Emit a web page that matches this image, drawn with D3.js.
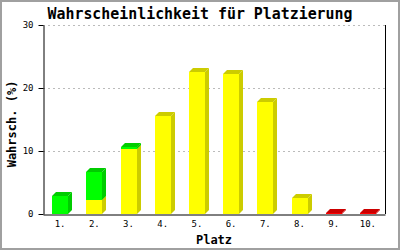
<!DOCTYPE html>
<html><head><meta charset="utf-8">
<script src="https://cdn.jsdelivr.net/npm/d3@7"></script>
<style>body{margin:0;background:#fff}svg{display:block}</style>
</head><body>
<script>
const categories = ["1.","2.","3.","4.","5.","6.","7.","8.","9.","10."];
const yellowVals = [0, 2.2, 10.3, 15.5, 22.6, 22.3, 17.7, 2.6, 0, 0];
const greenVals  = [2.8, 4.4, 0.3, 0, 0, 0, 0, 0, 0, 0];
const redVals    = [0, 0, 0, 0, 0, 0, 0, 0, 0.2, 0.2];
const yTicks = [0, 10, 20, 30];

(function () {
const W = 400, H = 250;
const svg = d3.select("body").append("svg").attr("width", W).attr("height", H);
svg.append("rect").attr("x",1).attr("y",1).attr("width",W-2).attr("height",H-2)
  .attr("fill","#fff").attr("stroke","#a0a0a0").attr("stroke-width",2);

const pL = 43, pR = 385, pT = 25, pB = 214;
const x = d3.scaleBand().domain(categories).range([pL, pR]);
const y = d3.scaleLinear().domain([0, 30]).range([pB, pT]);
const mono = "'DejaVu Sans Mono', monospace";

// grid
svg.append("g").selectAll("line").data(yTicks.filter(v => v > 0)).join("line")
  .attr("x1", pL).attr("x2", pR)
  .attr("y1", v => Math.round(y(v)) + 0.5).attr("y2", v => Math.round(y(v)) + 0.5)
  .attr("stroke", "#bbb").attr("stroke-dasharray", "2,3");

// bars
const series = [
  {vals: yellowVals, front: "#ffff00", dark: "#cccc00"},
  {vals: greenVals,  front: "#00ff00", dark: "#00cc00"},
  {vals: redVals,    front: "#ff0000", dark: "#cc0000"}
];
const bw = 16, dp = 4;
const segs = [];
categories.forEach((c, i) => {
  let base = 0;
  series.forEach(s => {
    const v = s.vals[i];
    if (v > 0) { segs.push({c, y0: base, y1: base + v, s}); base += v; }
  });
});
const g = svg.append("g");
segs.forEach(sg => {
  const cx = x(sg.c) + x.bandwidth() / 2;
  const x0 = Math.round(cx - bw / 2), x1 = x0 + bw;
  const yt = Math.round(y(sg.y1)), yb = Math.round(y(sg.y0));
  g.append("polygon").attr("points", [[x1, yb], [x1 + dp, yb - dp], [x1 + dp, yt - dp], [x1, yt]].join(" "))
    .attr("fill", sg.s.dark);
  g.append("polygon").attr("points", [[x0, yt], [x0 + dp, yt - dp], [x1 + dp, yt - dp], [x1, yt]].join(" "))
    .attr("fill", sg.s.dark);
  g.append("rect").attr("x", x0).attr("y", yt).attr("width", bw).attr("height", Math.max(0, yb - yt))
    .attr("fill", sg.s.front);
});

// axes
const yAxis = d3.axisLeft(y).tickValues(yTicks).tickSize(5).tickSizeOuter(0).tickFormat(d3.format("d"));
const ya = svg.append("g").attr("transform", `translate(${pL + 0.5},0)`).call(yAxis);
ya.selectAll("text").attr("font-family", mono).attr("font-size", 9).attr("fill", "#000").attr("dx", -2);
ya.selectAll("path,line").attr("stroke", "#000");

const xAxis = d3.axisBottom(x).tickSize(0).tickSizeOuter(0);
const xa = svg.append("g").attr("transform", `translate(0,${pB + 0.5})`).call(xAxis);
xa.selectAll("text").attr("font-family", mono).attr("font-size", 9).attr("fill", "#000").attr("dy", "1.1em");
xa.select("path").attr("stroke", "#000");

svg.append("line").attr("x1", pR + 0.5).attr("x2", pR + 0.5).attr("y1", pT).attr("y2", pB)
  .attr("stroke", "#000");

// titles
svg.append("text").attr("x", 200).attr("y", 19).attr("text-anchor", "middle")
  .attr("font-family", mono).attr("font-weight", "bold").attr("font-size", 15)
  .attr("textLength", 305).attr("lengthAdjust", "spacingAndGlyphs")
  .text("Wahrscheinlichkeit für Platzierung");
svg.append("text").attr("x", 214).attr("y", 244).attr("text-anchor", "middle")
  .attr("font-family", mono).attr("font-weight", "bold").attr("font-size", 12)
  .text("Platz");
svg.append("text").attr("transform", "translate(16,124) rotate(-90)").attr("text-anchor", "middle")
  .attr("font-family", mono).attr("font-weight", "bold").attr("font-size", 12)
  .text("Wahrsch. (%)");
})();
</script>
</body></html>
